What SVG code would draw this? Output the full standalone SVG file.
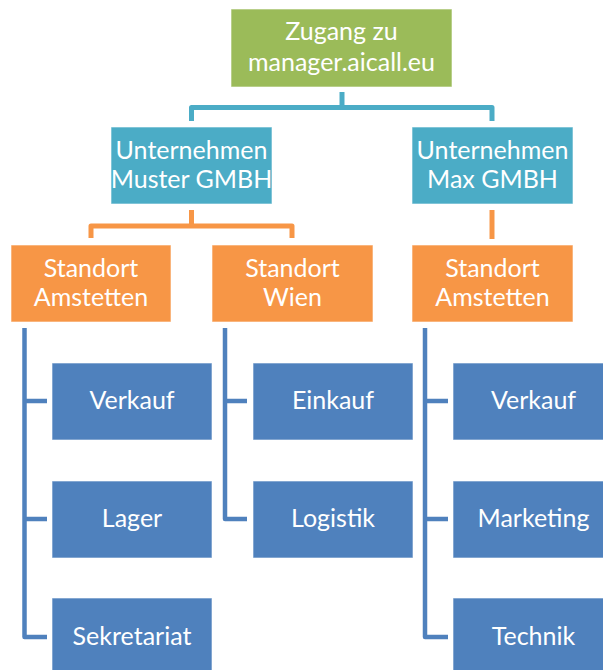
<svg xmlns="http://www.w3.org/2000/svg" width="603" height="670" viewBox="0 0 603 670">
<style>
.box{stroke:#ffffff;stroke-opacity:0.6;stroke-width:1}
.g{fill:#9BBB59}.c{fill:#4BACC6}.o{fill:#F79646}.b{fill:#4F81BD}
text{font-family:Lato,"Open Sans","Liberation Sans",sans-serif;font-size:25px;fill:#ffffff;text-anchor:middle}
.ln{fill:none;stroke-width:5;stroke-linejoin:round;stroke-linecap:butt}
.lc{stroke:#4BACC6}.lo{stroke:#F79646}.lb{stroke:#4F81BD;stroke-width:4.5}
</style>
<rect width="603" height="670" fill="#ffffff"/>
<g id="connectors">
<path class="ln lc" d="M342 92V107.5"/>
<path class="ln lc" d="M191.5 121V107.5H492V121"/>
<path class="ln lo" d="M191.5 210V226"/>
<path class="ln lo" d="M91 238V226H292V238"/>
<path class="ln lo" d="M492 210V239"/>
<path class="ln lb" d="M24.5 328V637H47M24.5 401H47M24.5 519H47"/>
<path class="ln lb" d="M225 328V519H247M225 401H247"/>
<path class="ln lb" d="M425 328V637H448M425 401H448M425 519H448"/>
</g>
<g id="root"><rect class="box g" x="231" y="9" width="221" height="78"/><text x="341.5" y="40">Zugang zu</text><text x="341.5" y="71">manager.aicall.eu</text></g>
<g id="muster"><rect class="box c" x="111" y="127" width="161" height="77"/><text x="191.5" y="159">Unternehmen</text><text x="191.5" y="188">Muster GMBH</text></g>
<g id="max"><rect class="box c" x="412" y="127" width="161" height="77"/><text x="492.5" y="159">Unternehmen</text><text x="492.5" y="188">Max GMBH</text></g>
<g id="standort-amstetten-1"><rect class="box o" x="11" y="245" width="160" height="77"/><text x="91" y="277">Standort</text><text x="91" y="306">Amstetten</text></g>
<g id="standort-wien"><rect class="box o" x="212" y="245" width="161" height="77"/><text x="292.5" y="277">Standort</text><text x="292.5" y="306">Wien</text></g>
<g id="standort-amstetten-2"><rect class="box o" x="412" y="245" width="161" height="77"/><text x="492.5" y="277">Standort</text><text x="492.5" y="306">Amstetten</text></g>
<g id="verkauf-1"><rect class="box b" x="52" y="363" width="160" height="77"/><text x="132" y="409">Verkauf</text></g>
<g id="lager"><rect class="box b" x="52" y="481" width="160" height="77"/><text x="132" y="527">Lager</text></g>
<g id="sekretariat"><rect class="box b" x="52" y="598" width="160" height="77"/><text x="132" y="645">Sekretariat</text></g>
<g id="einkauf"><rect class="box b" x="253" y="363" width="160" height="77"/><text x="333" y="409">Einkauf</text></g>
<g id="logistik"><rect class="box b" x="253" y="481" width="160" height="77"/><text x="333" y="527">Logistik</text></g>
<g id="verkauf-2"><rect class="box b" x="453" y="363" width="161" height="77"/><text x="533.5" y="409">Verkauf</text></g>
<g id="marketing"><rect class="box b" x="453" y="481" width="161" height="77"/><text x="533.5" y="527">Marketing</text></g>
<g id="technik"><rect class="box b" x="453" y="598" width="161" height="77"/><text x="533.5" y="645">Technik</text></g>
</svg>
